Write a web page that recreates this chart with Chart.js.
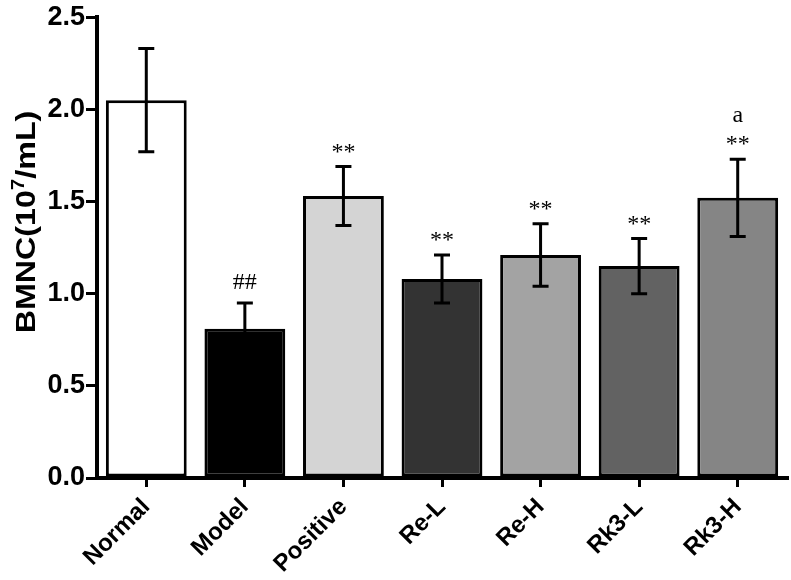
<!DOCTYPE html>
<html>
<head>
<meta charset="utf-8">
<script src="https://cdn.jsdelivr.net/npm/chart.js@4.4.1/dist/chart.umd.min.js"></script>
<style>
  html, body { margin: 0; padding: 0; background: #fff; }
  #wrap { width: 791px; height: 580px; }
</style>
</head>
<body>
<div id="wrap"><canvas id="chart" width="791" height="580"></canvas></div>
<script>
"use strict";

// カテゴリ
const categories = ["Normal", "Model", "Positive", "Re-L", "Re-H", "Rk3-L", "Rk3-H"];
// 平均値
const means = [2.05, 0.81, 1.53, 1.08, 1.21, 1.15, 1.52];
// 誤差
const errors = [0.28, 0.14, 0.16, 0.13, 0.17, 0.15, 0.21];
// 有意差マーク
const marks = ["", "##", "**", "**", "**", "**", "**"];
const extraMarks = ["", "", "", "", "", "", "a"];
// y軸
const yMin = 0;
const yMax = 2.5;
const yStep = 0.5;

const fillColors = ["#ffffff", "#000000", "#d4d4d4", "#333333", "#a3a3a3", "#626262", "#858585"];
const sansFont = "'Liberation Sans', Arial, sans-serif";

// エラーバーと記号
const errorBarPlugin = {
    id: "errorBars",
    afterDatasetsDraw(chart) {
        const ctx = chart.ctx;
        const x = chart.scales.x;
        const y = chart.scales.y;
        ctx.save();
        ctx.strokeStyle = "#000";
        ctx.lineWidth = 3;
        means.forEach((m, i) => {
            const cx = x.getPixelForValue(i);
            const top = y.getPixelForValue(m + errors[i]);
            const bot = y.getPixelForValue(m - errors[i]);
            ctx.beginPath();
            ctx.moveTo(cx, top);
            ctx.lineTo(cx, bot);
            ctx.moveTo(cx - 8, top);
            ctx.lineTo(cx + 8, top);
            ctx.moveTo(cx - 8, bot);
            ctx.lineTo(cx + 8, bot);
            ctx.stroke();

            ctx.fillStyle = "#000";
            ctx.textAlign = "center";
            ctx.textBaseline = "middle";
            ctx.font = "24px 'Liberation Serif', serif";
            if (marks[i]) {
                const off = marks[i] === "##" ? 20 : 14;
                ctx.fillText(marks[i], cx, top - off);
            }
            if (extraMarks[i]) {
                ctx.fillText(extraMarks[i], cx, top - 43);
            }
        });

        // y軸タイトル（上付き7）
        const big = "bold 28px " + sansFont;
        const small = "bold 18px " + sansFont;
        const parts = [["BMNC(10", big, 0], ["7", small, -11], ["/mL)", big, 0]];
        let total = 0;
        parts.forEach(p => { ctx.font = p[1]; total += ctx.measureText(p[0]).width; });
        ctx.translate(35, 222);
        ctx.rotate(-Math.PI / 2);
        ctx.scale(1.15, 1);
        ctx.textAlign = "left";
        ctx.textBaseline = "alphabetic";
        let pos = -total / 2;
        parts.forEach(p => {
            ctx.font = p[1];
            ctx.fillText(p[0], pos, p[2]);
            pos += ctx.measureText(p[0]).width;
        });
        ctx.restore();
    }
};

new Chart(document.getElementById("chart"), {
    type: "bar",
    data: {
        labels: categories,
        datasets: [{
            data: means,
            backgroundColor: fillColors,
            borderColor: "#000",
            borderWidth: 3,
            borderSkipped: false,
            barPercentage: 0.82,
            categoryPercentage: 1.0
        }]
    },
    options: {
        responsive: false,
        animation: false,
        layout: { padding: { top: 11, right: 4, left: 0, bottom: 0 } },
        plugins: {
            legend: { display: false },
            tooltip: { enabled: false }
        },
        scales: {
            x: {
                grid: {
                    offset: false,
                    drawOnChartArea: false,
                    drawTicks: true,
                    tickLength: 9,
                    color: "#000",
                    lineWidth: 3
                },
                border: { color: "#000", width: 4 },
                ticks: {
                    color: "#000",
                    minRotation: 45,
                    maxRotation: 45,
                    padding: 6,
                    font: { family: sansFont, size: 24, weight: "bold" }
                },
                afterFit: scale => { scale.height = 102; }
            },
            y: {
                min: yMin,
                max: yMax,
                grid: {
                    drawOnChartArea: false,
                    drawTicks: true,
                    tickLength: 11,
                    color: "#000",
                    lineWidth: 3
                },
                border: { color: "#000", width: 4 },
                ticks: {
                    stepSize: yStep,
                    color: "#000",
                    padding: 1,
                    callback: v => v.toFixed(1),
                    font: { family: sansFont, size: 27, weight: "bold" }
                },
                afterFit: scale => { scale.width = 97; }
            }
        }
    },
    plugins: [errorBarPlugin]
});
</script>
</body>
</html>
